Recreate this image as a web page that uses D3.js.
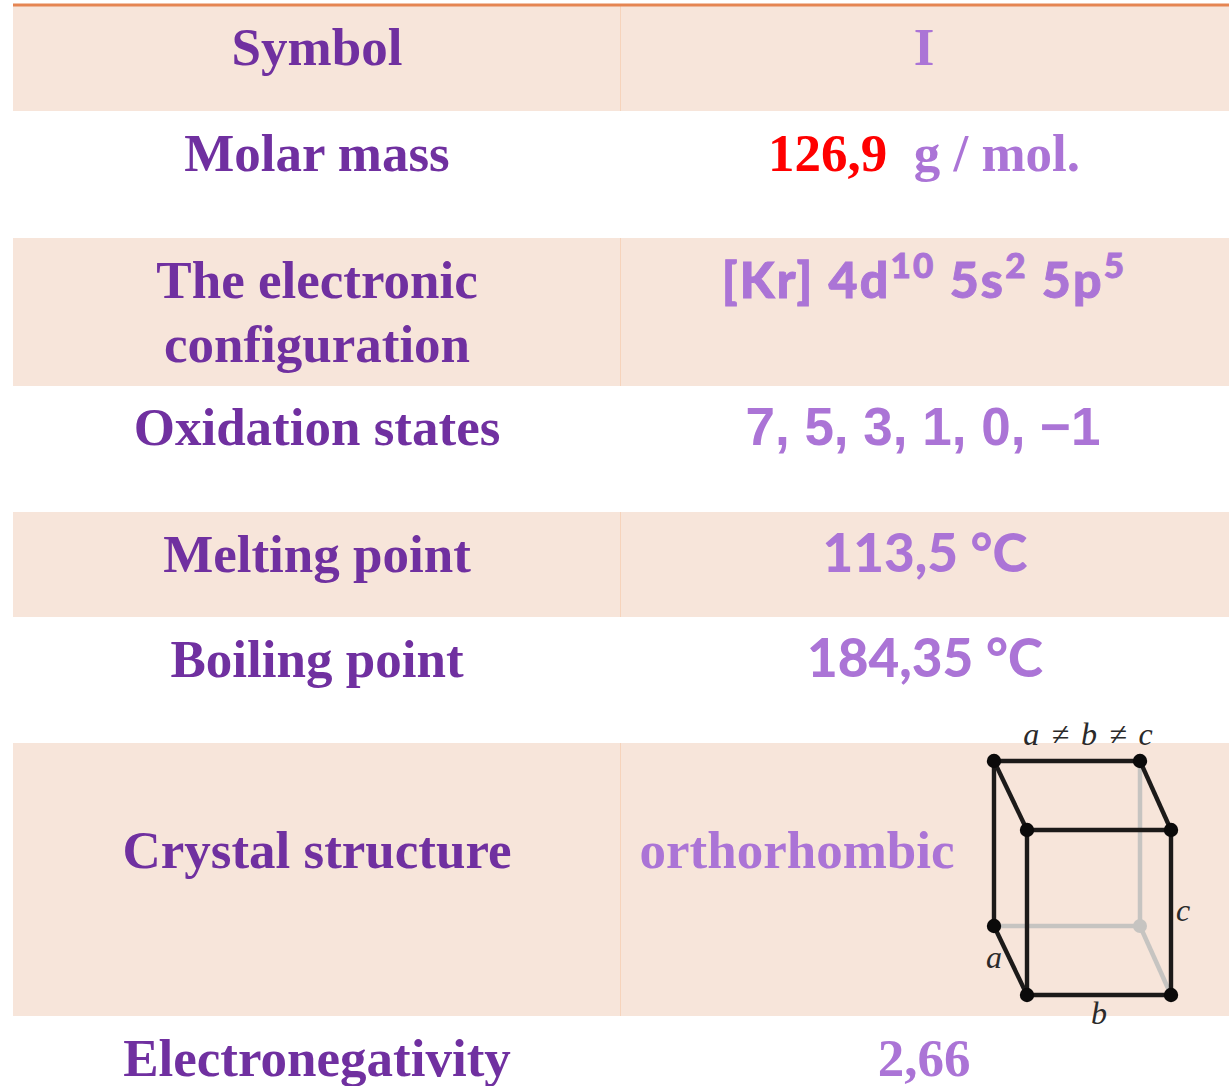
<!DOCTYPE html>
<html><head><meta charset="utf-8">
<style>html,body{margin:0;padding:0;background:#fff;overflow:hidden}svg{display:block}</style>
<script src="https://d3js.org/d3.v7.min.js"></script></head>
<body><div id="c"></div>
<script>
const W = 1229, H = 1086;
const SERIF = '"Liberation Serif"', LATO = 'Lato', SANS = '"Liberation Sans"';
const DARK = '#7030a0', LIGHT = '#ab74d6', RED = '#ff0000', BAND = '#f7e5da', RULE = '#e58552', DIV = '#f6d3bb';

// rows: top/bottom edges of each table row
const rowEdges = [6, 111, 238, 386, 512, 617, 743, 1016, 1086];
const rowShaded = [true, false, true, false, true, false, true, false];
const labels = [
  [{t:'Symbol', y:65}],
  [{t:'Molar mass', y:171}],
  [{t:'The electronic', y:298},{t:'configuration', y:362}],
  [{t:'Oxidation states', y:445}],
  [{t:'Melting point', y:572}],
  [{t:'Boiling point', y:677}],
  [{t:'Crystal structure', y:868}],
  [{t:'Electronegativity', y:1076}]
];
const values = [
  {x:924, y:65, font:SERIF, size:53, ls:0, sw:0, parts:[{t:'I'}]},
  {x:924, y:171, font:SERIF, size:53, ls:0, sw:0, parts:[{t:'126,9',c:RED},{t:'  g / mol.'}]},
  {x:924, y:298, font:LATO, size:50, ls:2.2, sw:0.9, parts:[{t:'[Kr] 4d'},{t:'10',sup:1},{t:' 5s'},{t:'2',sup:1},{t:' 5p'},{t:'5',sup:1}]},
  {x:923, y:445, font:SANS, size:53, ls:0, sw:0, parts:[{t:'7, 5, 3, 1, 0, \u22121'}]},
  {x:925, y:572, font:LATO, size:53, ls:0, sw:0, parts:[{t:'113,5 \u00b0C'}]},
  {x:925, y:677, font:LATO, size:53, ls:0, sw:0, parts:[{t:'184,35 \u00b0C'}]},
  {x:797, y:868, font:SERIF, size:53, ls:0, sw:0, parts:[{t:'orthorhombic'}]},
  {x:924, y:1076, font:SERIF, size:53, ls:0, sw:0, parts:[{t:'2,66'}]}
];
// unit-cell diagram
const cellPts = {A:[994,761],B:[1140,761],C:[1027,830],D:[1171,830],E:[994,926],F:[1140,926],G:[1027,995],H:[1171,995]};
const cellBlack = [['A','B'],['A','C'],['B','D'],['C','D'],['A','E'],['C','G'],['D','H'],['G','H'],['E','G']];
const cellGrey = [['B','F'],['E','F'],['F','H']];
const cellDots = ['A','B','C','D','E','G','H'];
const cellLabels = [
  {t:'a \u2260 b \u2260 c', x:1088, y:745, size:32, ws:4},
  {t:'c', x:1183, y:921, size:32, ws:0},
  {t:'a', x:994, y:968, size:32, ws:0},
  {t:'b', x:1099, y:1024, size:32, ws:0}
];

const svg = d3.select('#c').append('svg').attr('width', W).attr('height', H).attr('viewBox', `0 0 ${W} ${H}`);
const shaded = rowShaded.map((s,i)=>({s,i})).filter(d=>d.s);

svg.append('g').selectAll('rect').data(shaded).join('rect')
  .attr('x', 13).attr('width', W-13)
  .attr('y', d=>rowEdges[d.i]).attr('height', d=>rowEdges[d.i+1]-rowEdges[d.i])
  .attr('fill', BAND);
svg.append('g').selectAll('line').data(shaded).join('line')
  .attr('x1',620.5).attr('x2',620.5)
  .attr('y1', d=>rowEdges[d.i]).attr('y2', d=>rowEdges[d.i+1])
  .attr('stroke', DIV).attr('stroke-width',1);
svg.append('line').attr('x1',13).attr('x2',W).attr('y1',5).attr('y2',5).attr('stroke',RULE).attr('stroke-width',3);

svg.append('g').selectAll('text').data(labels.flat()).join('text')
  .attr('x',317).attr('y',d=>d.y).attr('text-anchor','middle')
  .attr('font-family',SERIF).attr('font-weight',700).attr('font-size',53).attr('fill',DARK)
  .text(d=>d.t);

const vt = svg.append('g').selectAll('text').data(values).join('text')
  .attr('x',d=>d.x).attr('y',d=>d.y).attr('text-anchor','middle')
  .attr('font-family',d=>d.font).attr('font-weight',d=>d.font===LATO?900:700)
  .attr('font-size',d=>d.size).attr('letter-spacing',d=>d.ls).attr('fill',LIGHT)
  .attr('stroke',d=>d.sw?LIGHT:'none').attr('stroke-width',d=>d.sw).style('white-space','pre');
vt.each(function(d){
  const el = d3.select(this);
  let up = false;
  d.parts.forEach(p=>{
    el.append('tspan').text(p.t)
      .attr('fill',p.c||LIGHT)
      .attr('font-size',p.sup?d.size*0.7:null)
      .attr('dy',p.sup?-20:(up?20:0));
    up = !!p.sup;
  });
});

const cell = svg.append('g');
cell.selectAll('line.g').data(cellGrey).join('line').attr('class','g')
  .attr('x1',d=>cellPts[d[0]][0]).attr('y1',d=>cellPts[d[0]][1]).attr('x2',d=>cellPts[d[1]][0]).attr('y2',d=>cellPts[d[1]][1])
  .attr('stroke','#c6c4c1').attr('stroke-width',4.5);
cell.append('circle').attr('cx',cellPts.F[0]).attr('cy',cellPts.F[1]).attr('r',7).attr('fill','#c6c4c1');
cell.selectAll('line.b').data(cellBlack).join('line').attr('class','b')
  .attr('x1',d=>cellPts[d[0]][0]).attr('y1',d=>cellPts[d[0]][1]).attr('x2',d=>cellPts[d[1]][0]).attr('y2',d=>cellPts[d[1]][1])
  .attr('stroke','#1c1a19').attr('stroke-width',4.4);
cell.selectAll('circle.d').data(cellDots).join('circle').attr('class','d')
  .attr('cx',d=>cellPts[d][0]).attr('cy',d=>cellPts[d][1]).attr('r',7.2).attr('fill','#0b0a0a');
cell.selectAll('text').data(cellLabels).join('text')
  .attr('x',d=>d.x).attr('y',d=>d.y).attr('text-anchor','middle')
  .attr('font-family',SERIF).attr('font-style','italic').attr('font-size',d=>d.size).attr('word-spacing',d=>d.ws).attr('fill','#2b2a2a')
  .text(d=>d.t);
</script></body></html>
